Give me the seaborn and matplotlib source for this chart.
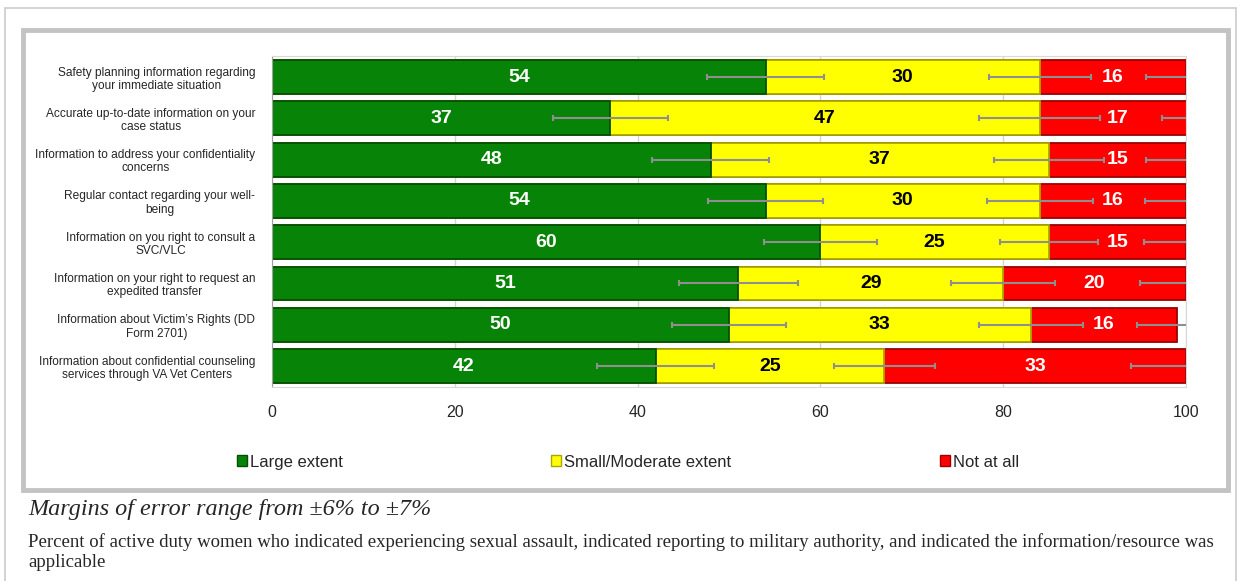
# Stacked horizontal bars: information/resources received after reporting
import numpy as np
import pandas as pd
import seaborn as sns
import matplotlib.pyplot as plt
from matplotlib.patches import Rectangle, Patch

items = [
    'Safety planning information regarding\nyour immediate situation',
    'Accurate up-to-date information on your\ncase status',
    'Information to address your confidentiality\nconcerns',
    'Regular contact regarding your well-\nbeing',
    'Information on you right to consult a\nSVC/VLC',
    'Information on your right to request an\nexpedited transfer',
    'Information about Victim\u2019s Rights (DD\nForm 2701)',
    'Information about confidential counseling\nservices through VA Vet Centers',
]
large = [54, 37, 48, 54, 60, 51, 50, 42]
small = [30, 47, 37, 30, 25, 29, 33, 25]
notatall = [16, 17, 15, 16, 15, 20, 16, 33]

# error bar half widths
err_large = [6.4, 6.3, 6.4, 6.3, 6.2, 6.5, 6.2, 6.4]
err_small = [5.6, 6.6, 6.0, 5.8, 5.4, 5.7, 5.7, 5.5]
err_not = [4.4, 3.6, 4.4, 4.5, 4.6, 5.0, 4.4, 6.0]

series = ['Large extent', 'Small/Moderate extent', 'Not at all']
colors = ['#078407', '#ffff00', '#ff0000']
edges = ['#034f03', '#a8a800', '#9a0000']

df = pd.DataFrame({'item': items, 'large': large, 'small': small, 'not': notatall})
df['c1'] = df['large']
df['c2'] = df['large'] + df['small']
df['c3'] = df['c2'] + df['not']

sns.set_style('white')
plt.rcParams['font.family'] = ['Liberation Sans', 'DejaVu Sans']

fig = plt.figure(figsize=(12.41, 5.81), dpi=100)
ax = fig.add_axes([0.2192, 0.3344, 0.7365, 0.5685])

# draw cumulative totals, widest first, so each segment shows on top
for col, c, ec in [('c3', colors[2], edges[2]), ('c2', colors[1], edges[1]), ('c1', colors[0], edges[0])]:
    sns.barplot(data=df, x=col, y='item', color=c, saturation=1, width=0.82,
                edgecolor=ec, linewidth=1.3, ax=ax, zorder=2)

ypos = np.arange(len(items))
for col, err in [('c1', err_large), ('c2', err_small), ('c3', err_not)]:
    ax.errorbar(df[col], ypos, xerr=err, fmt='none', ecolor='#8f8f8f',
                elinewidth=1.5, capsize=2.5, capthick=1.5, zorder=4)

for i in range(len(items)):
    ax.text(df['large'][i] / 2, i, str(large[i]), ha='center', va='center',
            color='white', fontsize=14, fontweight='bold', zorder=5)
    ax.text(df['c1'][i] + df['small'][i] / 2, i, str(small[i]), ha='center', va='center',
            color='black', fontsize=14, fontweight='bold', zorder=5)
    ax.text(df['c2'][i] + df['not'][i] / 2, i, str(notatall[i]), ha='center', va='center',
            color='white', fontsize=14, fontweight='bold', zorder=5)

ax.set_xlim(0, 100)
ax.set_ylim(len(items) - 0.5, -0.5)
ax.set_xticks(range(0, 101, 20))
ax.set_xlabel('')
ax.set_ylabel('')
ax.set_axisbelow(True)
ax.grid(axis='x', color='#d4d4d4', lw=1)
ax.grid(axis='y', visible=False)
ax.tick_params(axis='x', length=0, pad=13, labelsize=11.5)
ax.tick_params(axis='y', which='major', length=0, pad=12, labelsize=8.6)
ax.set_yticks(np.arange(-0.5, len(items)), minor=True)
ax.tick_params(axis='y', which='minor', length=5, color='#a0a0a0', width=1)
for lab in ax.get_yticklabels():
    lab.set_multialignment('center')
    lab.set_linespacing(1.15)
for s in ['top', 'right', 'bottom']:
    ax.spines[s].set_color('#d9d9d9')
ax.spines['left'].set_color('#a0a0a0')

handles = [Patch(facecolor=c, edgecolor=e) for c, e in zip(colors, edges)]
fig.legend(handles, series, loc='center', bbox_to_anchor=(0.506, 0.2048), ncol=3,
           frameon=False, fontsize=12, handlelength=0.6, handleheight=0.6,
           handletextpad=0.2, columnspacing=12.5)

# chart frame and outer page frame
fig.add_artist(Rectangle((23 / 1241, 1 - 490 / 581), 1205 / 1241, 460 / 581,
                         transform=fig.transFigure, fill=False, ec='#c3c3c3', lw=3.5))
fig.add_artist(Rectangle((5 / 1241, -0.1), 1231 / 1241, 1.1 - 8 / 581,
                         transform=fig.transFigure, fill=False, ec='#cccccc', lw=1.2))

fig.text(28 / 1241, 1 - 509 / 581, 'Margins of error range from \u00b16% to \u00b17%',
         family='Liberation Serif', style='italic', fontsize=17.4, va='center')
fig.text(28 / 1241, 1 - 552 / 581,
         'Percent of active duty women who indicated experiencing sexual assault, indicated reporting to military authority, and indicated the information/resource was\napplicable',
         family='Liberation Serif', fontsize=13.5, va='center', linespacing=1.2)

fig.savefig('out.png', dpi=100)
